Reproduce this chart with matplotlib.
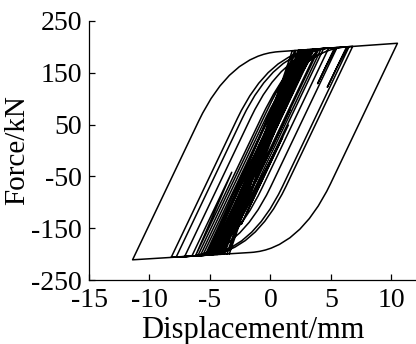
import matplotlib.pyplot as plt
from matplotlib.path import Path
from matplotlib.patches import PathPatch

# reversal points of the force-displacement history
disp = [0.0, 1.6, -1.2, 2.4, -4.0, 2.8, -4.6, 3.4, -5.2, 4.0, -5.8,
        10.5, -11.4, 6.8, -8.2, 6.3, 4.7, 6.5, -7.8, 5.3, 3.9, 5.5,
        -7.1, 4.8, -6.5, -3.2, -6.2, 4.4, -5.6, 3.9, -5.3, 3.6, -4.9,
        3.2, -4.5, 2.9, -4.4, 2.6, -4.2, 2.3, -3.9, 2.0, -3.6,
        3.0, -4.8, 3.3, -5.1, 2.7, -4.3, 3.5, -5.4, 2.5, -4.7, 4.2,
        -6.0, 3.1, -5.0, 2.1, -3.8, 1.8, -3.4, 2.4, -4.1, 1.0,
        -2.4, 1.5]
force = [0.0, 78, -59, 193.6, -200, 194, -201, 195, -202, 196, -203,
         207, -211, 201, -206, 200, 122, 200.3, -206, 198, 129, 198.5,
         -205, 197, -204, -42, -203.5, 197, -202.5, 196, -202, 195.5, -201.5,
         195, -201, 194.5, -201, 194, -200.5, 193.5, -200, 193, -200,
         194.5, -201.5, 195, -202, 194, -200.5, 195.5, -202, 193.8, -201, 196.5,
         -203, 195, -201.5, 193, -200, 192.5, -199.5, 193.8, -200.5, 25,
         -142, 50]

# skeleton read from the outer loop
k_el = 49.0                               # elastic slope, kN/mm
upper_env = [(-1.0, 188.0), (10.5, 207.0)]
lower_env = [(-11.4, -211.0), (1.0, -193.0)]
knee_in = 2.6                             # mm of rounding before the knee
knee_out = 4.0                            # mm of rounding after the knee

x_ticks = [-15, -10, -5, 0, 5, 10]
y_ticks = [-250, -150, -50, 50, 150, 250]


def branch(p0, p1):
    (x0, f0), (x1, f1) = p0, p1
    s = 1 if x1 > x0 else -1
    (ea, fa), (eb, fb) = upper_env if s > 0 else lower_env
    kh = (fb - fa) / (eb - ea)
    c = fa - kh * ea
    xk = (c - f0 + k_el * x0) / (k_el - kh)
    if s * (x1 - xk) <= 0:
        return [p1], [Path.LINETO]
    fk = c + kh * xk
    a = min(knee_in, 0.9 * s * (xk - x0))
    b = min(knee_out, s * (x1 - xk))
    q1 = (xk - s * a, fk - s * a * k_el)
    q2 = (xk + s * b, fk + s * b * kh)
    return ([q1, (xk, fk), q2, p1],
            [Path.LINETO, Path.CURVE3, Path.CURVE3, Path.LINETO])


plt.rcParams['font.family'] = ['Liberation Serif', 'DejaVu Serif']
plt.rcParams['axes.unicode_minus'] = False

fig = plt.figure(figsize=(4.16, 3.44), dpi=100)
ax = fig.add_axes([0.214, 0.186, 0.785, 0.753])

pts = list(zip(disp, force))
verts = [pts[0]]
codes = [Path.MOVETO]
for p0, p1 in zip(pts[:-1], pts[1:]):
    v, c = branch(p0, p1)
    verts += v
    codes += c
ax.add_patch(PathPatch(Path(verts, codes), fill=False, edgecolor='black',
                       lw=1.1, joinstyle='round'))

ax.set_xlim(-15, 12)
ax.set_ylim(-250, 250)
ax.set_xticks(x_ticks)
ax.set_yticks(y_ticks)
ax.spines['top'].set_visible(False)
ax.spines['right'].set_visible(False)
for sp in ax.spines.values():
    sp.set_linewidth(0.9)
ax.tick_params(direction='in', length=4, width=0.9, labelsize=20)
ax.tick_params(axis='x', pad=6)
ax.tick_params(axis='y', pad=5)
ax.set_xlabel('Displacement/mm', fontsize=22, labelpad=2)
ax.set_ylabel('Force/kN', fontsize=21, labelpad=1)

fig.savefig('out.png', dpi=100)
